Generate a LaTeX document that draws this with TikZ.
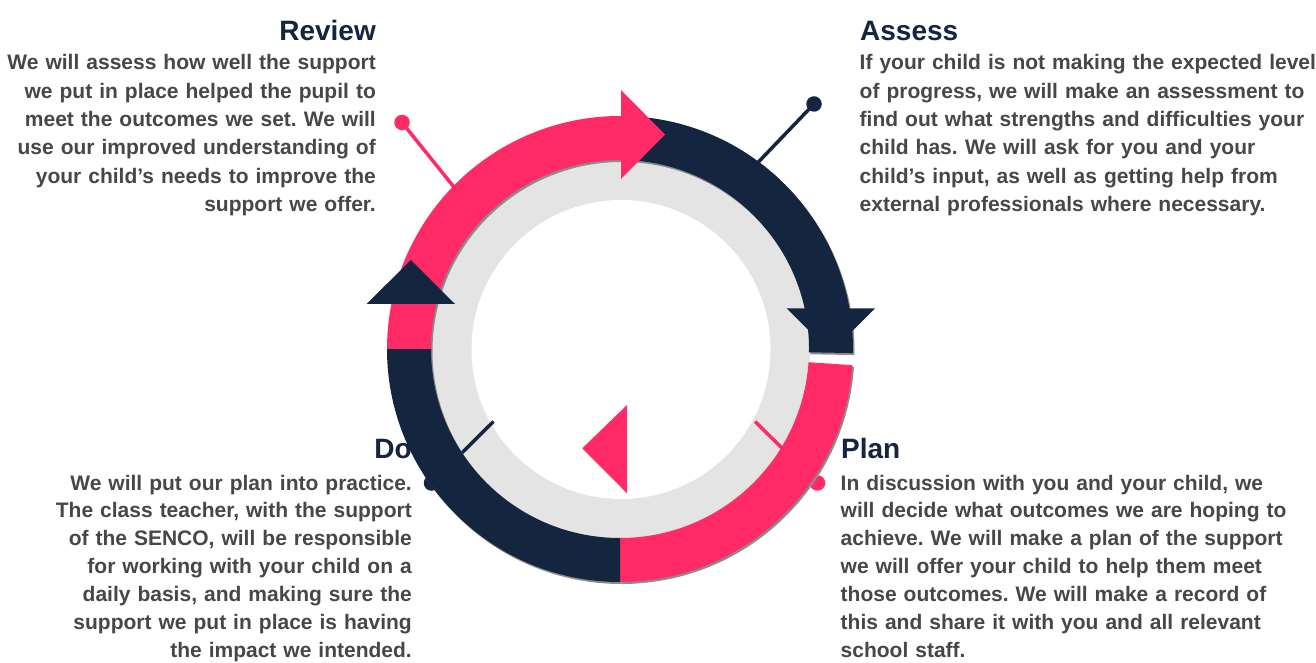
\documentclass[tikz,border=0pt]{standalone}
\usepackage{fontspec}
\setmainfont{Liberation Sans}
\frenchspacing
\definecolor{navy}{HTML}{14253F}
\definecolor{pinkc}{HTML}{FF2A66}
\definecolor{ringgrey}{HTML}{E4E4E4}
\definecolor{bodygrey}{HTML}{474747}
\definecolor{shadowgrey}{HTML}{8C8C8C}
\tikzset{
  headtext/.style={inner sep=0pt, text=navy, font=\fontsize{28}{32}\selectfont\bfseries},
  toptext/.style={inner sep=0pt, text=bodygrey, text width=470pt, font=\fontsize{21}{28.3}\selectfont\bfseries},
  bottext/.style={inner sep=0pt, text=bodygrey, text width=470pt, font=\fontsize{21}{27.9}\selectfont\bfseries},
  pindot/.style={circle, inner sep=0pt, minimum size=15.5pt},
  pinline/.style={line width=3.5pt},
}
\newcommand\bandshadow[2]{%
  \begin{scope}[shift={(621.5,311)}]
    \fill[shadowgrey] (#1:233) arc[start angle=#1, end angle=#2, radius=233]
      -- (#2:189) arc[start angle=#2, end angle=#1, radius=189] -- cycle;
  \end{scope}}
\newcommand\ringband[3]{%
  \begin{scope}[shift={(620,313)}]
    \fill[#1] (#2:233) arc[start angle=#2, end angle=#3, radius=233]
      -- (#3:189) arc[start angle=#3, end angle=#2, radius=189] -- cycle;
  \end{scope}}
\begin{document}
\begin{tikzpicture}[x=1pt, y=1pt]
\useasboundingbox (0,0) rectangle (1316,662);
\fill[white] (0,0) rectangle (1316,662);

% texts
\node[headtext, anchor=base east] (revhead) at (376,621) {Review};
\node[toptext, anchor=base east, align=right] (revbody) at (376,592) {We will assess how well the support\\we put in place helped the pupil to\\meet the outcomes we set. We will\\use our improved understanding of\\your child’s needs to improve the\\support we offer.};

\node[headtext, anchor=base west] (asshead) at (860,621) {Assess};
\node[toptext, anchor=base west, align=left] (assbody) at (859.5,592) {If your child is not making the expected level\\of progress, we will make an assessment to\\find out what strengths and difficulties your\\child has.\hspace{0.35em}We will ask for you and your\\child’s input, as well as getting help from\\external professionals where necessary.};

\node[headtext, anchor=base east] (dohead) at (412,204) {Do};
\node[bottext, anchor=base east, align=right] (dobody) at (412,172) {We will put our plan into practice.\\The class teacher, with the support\\of the SENCO, will be responsible\\for working with your child on a\\daily basis, and making sure the\\support we put in place is having\\the impact we intended.};

\node[headtext, anchor=base west] (planhead) at (841,204) {Plan};
\node[bottext, anchor=base west, align=left] (planbody) at (840.5,172) {In discussion with you and your child, we\\will decide what outcomes we are hoping to\\achieve. We will make a plan of the support\\we will offer your child to help them meet\\those outcomes. We will make a record of\\this and share it with you and all relevant\\school staff.};

% grey ring
\fill[ringgrey] (620,313) circle[radius=190];
\fill[white] (621,312.5) circle[radius=149.5];

% pins
\node[pindot, fill=pinkc] (revdot) at (402,539.5) {};
\coordinate (revend) at (470,455);
\draw[pinline, pinkc] (revdot.center) -- (revend);

\node[pindot, fill=navy] (assdot) at (814,558) {};
\coordinate (assend) at (745,486);
\draw[pinline, navy] (assdot.center) -- (assend);

\node[pindot, fill=pinkc] (plandot) at (817.5,179) {};
\coordinate (planstart) at (755,240.5);
\draw[pinline, pinkc] (planstart) -- (plandot.center);

\node[pindot, fill=navy] (dodot) at (431.5,179) {};
\coordinate (dostart) at (493.5,240.5);
\draw[pinline, navy] (dostart) -- (dodot.center);

% ring band shadows
\bandshadow{88}{180}
\bandshadow{88}{-1}
\bandshadow{-4}{-90}
\bandshadow{180}{270}
% ring bands
\ringband{navy}{88}{-1}
\ringband{pinkc}{88}{180}
\ringband{pinkc}{-4}{-90}
\ringband{navy}{180}{270}

% arrow heads
\fill[pinkc] (621,572) -- (665,527.5) -- (621,483) -- cycle;
\fill[navy] (786.7,353.7) -- (875,353.7) -- (830.8,309.5) -- cycle;
\fill[navy] (366.7,358) -- (455,358) -- (410.8,402) -- cycle;
\fill[pinkc] (627,257) -- (627,168.7) -- (582.3,213.7) -- cycle;
\end{tikzpicture}
\end{document}
